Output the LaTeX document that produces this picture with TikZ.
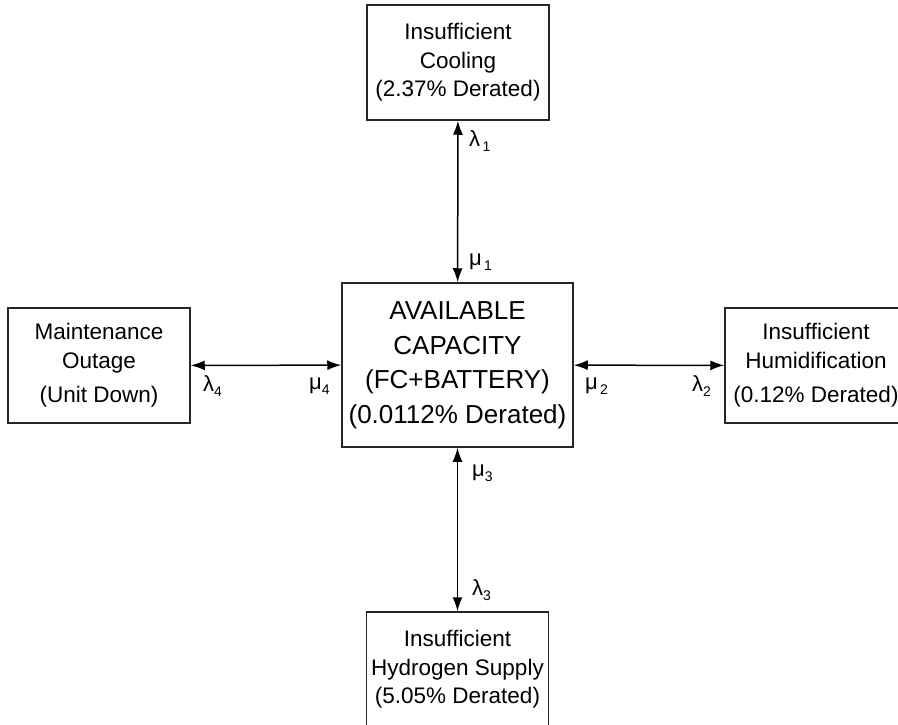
\documentclass[tikz,border=0pt]{standalone}
\usepackage{fontspec}
\setmainfont{Liberation Sans}
\usetikzlibrary{arrows.meta, positioning}
\def\boxW{182}
\def\boxH{115}
% rate symbol with a lowered index
\newcommand{\rateSym}[2]{#1\raisebox{-0.45ex}{\fontsize{14}{14}\selectfont #2}}

\begin{document}
\begin{tikzpicture}[x=1pt, y=-1pt,
    state/.style={draw=black!85, line width=1.5pt, align=center, inner sep=0pt,
        minimum width=\boxW pt, minimum height=\boxH pt, font=\fontsize{22.5}{28.5}\selectfont},
    link/.style={{Latex[length=14pt,width=10pt]}-{Latex[length=14pt,width=10pt]}, line width=1.5pt},
    rate/.style={anchor=west, inner sep=0pt, font=\fontsize{22}{24}\selectfont}]
    \useasboundingbox (0,0) rectangle (898,725);

    % Draw states
    \node[state, minimum width=231pt, minimum height=164pt, font=\fontsize{26}{34.5}\selectfont]
        (avail) at (457.5,365) {AVAILABLE\\CAPACITY\\(FC+BATTERY)\\(0.0112\% Derated)};
    \node[state] (cool) at (458,62.5) {Insufficient\\Cooling\\(2.37\% Derated)};
    \node[state] (maint) at (99,365.5) {Maintenance\\Outage\\[6pt](Unit Down)};
    \node[state] (humid) at (816,365.5) {Insufficient\\Humidification\\[6pt](0.12\% Derated)};
    \node[state] (hydro) at (457.5,669.5) {Insufficient\\Hydrogen Supply\\(5.05\% Derated)};

    % Draw transitions
    \draw[link] (cool) -- (avail);
    \draw[link] (maint) -- (avail);
    \draw[link] (avail) -- (humid);
    \draw[link] (avail) -- (hydro);

    % Draw rate labels
    \node[rate] (lam1) at (469,141) {\rateSym{λ}{\,1}};
    \node[rate] (mu1) at (469,262) {\rateSym{μ}{\,1}};
    \node[rate] (lam4) at (203,386) {\rateSym{λ}{4}};
    \node[rate] (mu4) at (309,386) {\rateSym{μ}{4}};
    \node[rate] (mu2) at (585,386) {\rateSym{μ}{\,2}};
    \node[rate] (lam2) at (692,386) {\rateSym{λ}{2}};
    \node[rate] (mu3) at (472,473) {\rateSym{μ}{3}};
    \node[rate] (lam3) at (472,590) {\rateSym{λ}{3}};
\end{tikzpicture}
\end{document}
